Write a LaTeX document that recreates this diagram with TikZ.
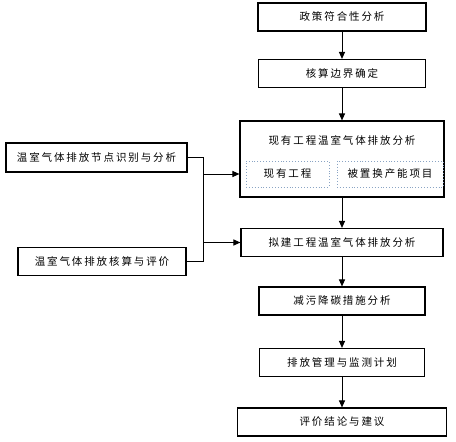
\documentclass[tikz,border=0pt]{standalone}
\usepackage{fontspec}
\usetikzlibrary{arrows.meta,positioning,calc}
\newfontfamily\cjk[LetterSpace=18]{Noto Sans CJK SC}
\definecolor{dotline}{HTML}{8AA4C4}
\tikzset{box/.style={draw=black,line width=1.1pt,fill=white,align=center,font=\cjk\fontsize{10.5}{12}\selectfont,minimum height=28pt,inner sep=0pt}, inbox/.style={draw=dotline,dotted,line width=0.9pt,align=center,font=\cjk\fontsize{10.5}{12}\selectfont,minimum height=26pt,inner sep=0pt},arr/.style={-{Triangle[length=7pt,width=6pt]},line width=1pt,draw=black},link/.style={line width=1pt,draw=black}}

\begin{document}
\begin{tikzpicture}[x=1pt,y=-1pt]
\useasboundingbox (0,0) rectangle (456,442);
% main column
\foreach \n/\y/\w/\t in {s1/17/168/政策符合性分析,s2/73.5/167/核算边界确定,s3/242.5/202/拟建工程温室气体排放分析,s4/301/166/减污降碳措施分析,s5/362.5/165/排放管理与监测计划,s6/422/209/评价结论与建议}{\node[box,minimum width=\w pt] (\n) at (342,\y){\t};}
\node[box,minimum width=204pt,minimum height=76pt] (cur) at (342,159){};
\node[font=\cjk\fontsize{10.5}{12}\selectfont] (curt) at (342,140){现有工程温室气体排放分析};
\node[inbox,minimum width=83pt] (in1) at (287.5,174){现有工程};
\node[inbox,minimum width=106pt] (in2) at (390,174){被置换产能项目};
% left side
\node[box,minimum width=181pt,minimum height=29pt] (l1) at (96.5,157.5){温室气体排放节点识别与分析};
\node[box,minimum width=168pt] (l2) at (102,261.5){温室气体排放核算与评价};
\coordinate (j1) at (203,157.5);
\coordinate (j2) at (203,261.5);
\draw[link](l1.east)--(j1)--(j2)--(l2.east);
\draw[arr](j1|-in1)--(cur.west|-in1);
\draw[arr](j1|-s3)--(s3.west);
% flow
\draw[arr](s1)--(s2);
\draw[arr](s2)--(cur);
\draw[arr](cur)--(s3);
\draw[arr](s3)--(s4);
\draw[arr](s4)--(s5);
\draw[arr](s5)--(s6);
\end{tikzpicture}
\end{document}
